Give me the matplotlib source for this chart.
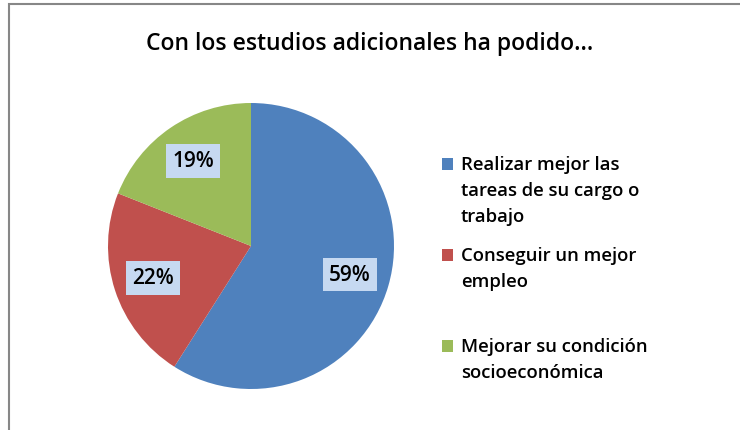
import matplotlib.pyplot as plt
from matplotlib.patches import Rectangle
from matplotlib.legend_handler import HandlerPatch

plt.rcParams['font.family'] = ['Open Sans', 'DejaVu Sans']
plt.rcParams['font.weight'] = 'semibold'

# data
categories = ['Realizar mejor las\ntareas de su cargo o\ntrabajo',
              'Conseguir un mejor\nempleo\n',
              'Mejorar su condición\nsocioeconómica']
shares = [59, 22, 19]
colors = ['#4f81bd', '#c0504d', '#9bbb59']

LINE_PT = 18.7  # distance between legend text lines, points

fig = plt.figure(figsize=(7.4, 4.31), dpi=100)
ax = fig.add_axes([0, 0, 1, 1])

wedges, texts, autotexts = ax.pie(
    shares, colors=colors, startangle=90, counterclock=False,
    center=(251, 184), radius=143,
    autopct=lambda p: '%d%%' % round(p), pctdistance=0.72,
    textprops=dict(fontsize=15, color='black', fontweight='semibold'))
for t in autotexts:
    t.set_bbox(dict(facecolor='#c6d9f1', edgecolor='none', pad=4.5))

ax.set_xlim(0, 740)
ax.set_ylim(0, 431)
ax.set_aspect('equal')
ax.axis('off')

ax.set_title('Con los estudios adicionales ha podido...', fontsize=16.5,
             fontweight='semibold', y=0.865)


# legend squares sit next to the first line of each label
nlines = {id(w): lab.count('\n') + 1 for w, lab in zip(wedges, categories)}


def top_square(legend, orig_handle, xdescent, ydescent, width, height,
               fontsize):
    shift = (nlines[id(orig_handle)] - 1) / 2 * LINE_PT
    return Rectangle((-xdescent, -ydescent + shift), width, height)


leg = ax.legend(wedges, categories, loc='upper left',
                bbox_to_anchor=(425 / 740, 1 - 139 / 431), frameon=False,
                prop=dict(size=13.3, weight='semibold'),
                handlelength=0.63, handleheight=0.63,
                handletextpad=0.41, labelspacing=1.11,
                handler_map={w: HandlerPatch(patch_func=top_square)
                             for w in wedges})
for t in leg.get_texts():
    t.set_linespacing(1.59)

# chart border
fig.patches.append(Rectangle((9 / 740, -0.1), 1.0, 1 - 5 / 431 + 0.1,
                             transform=fig.transFigure, fill=False,
                             edgecolor='#878787', linewidth=1.5))

fig.savefig('out.png', dpi=100)
